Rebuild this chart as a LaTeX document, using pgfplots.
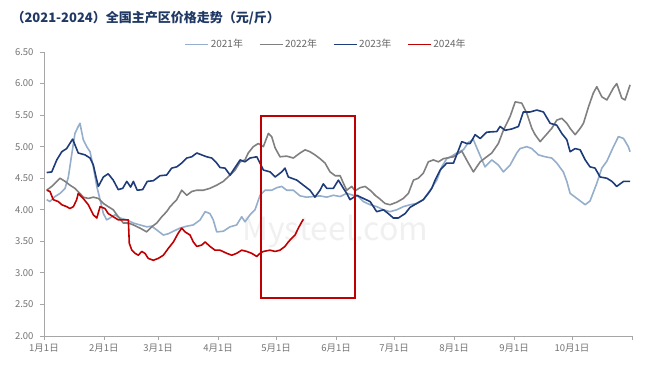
\documentclass[border=0pt]{standalone}
\usepackage{fontspec}
\setmainfont{Noto Sans CJK SC}
\usepackage{pgfplots}
\pgfplotsset{compat=1.18}
\definecolor{c21}{HTML}{94AECB}
\definecolor{c22}{HTML}{808080}
\definecolor{c23}{HTML}{1F3C7A}
\definecolor{c24}{HTML}{C00000}
\definecolor{titleblue}{HTML}{1F3864}
\begin{document}
\begin{tikzpicture}
\begin{axis}[
  at={(0,0)}, anchor=south west,
  scale only axis, width=588pt, height=284pt,
  xmin=0, xmax=304, ymin=2, ymax=6.5,
  axis x line*=bottom, axis y line*=left,
  axis line style={draw=black!35, line width=0.8pt},
  tick style={draw=black!35, line width=0.8pt},
  tick align=outside, major tick length=4pt,
  xtick={0,31,59,90,120,151,181,212,243,273,304},
  xticklabels={1月1日,2月1日,3月1日,4月1日,5月1日,6月1日,7月1日,8月1日,9月1日,10月1日,},
  ytick={2,2.5,3,3.5,4,4.5,5,5.5,6,6.5},
  /pgf/number format/fixed, /pgf/number format/fixed zerofill,
  /pgf/number format/precision=2, /pgf/number format/assume math mode=true,
  tick label style={font=\fontsize{9.5}{10}\selectfont, text=black!55},
  yticklabel style={xshift=-3pt},
  legend style={at={(0.48,1.028)}, anchor=center, draw=none, fill=none,
    legend columns=4, font=\fontsize{10}{12}\selectfont, text=black!60,
    /tikz/every even column/.append style={column sep=14pt}},
  legend image code/.code={\draw[#1, line width=1pt] (0pt,0pt) -- (23pt,0pt);},
  every axis plot/.append style={line width=1.6pt, line join=round, no markers},
]
\node[text=black!6, font=\fontsize{32}{32}\selectfont] at (axis cs:150.5,3.65) {Mysteel.com};
% 2021
\addplot[c21] coordinates {
(1.4,4.16)(3.1,4.13)(5.7,4.21)(8.3,4.26)(10.9,4.34)(12.6,4.52)(14.3,4.87)(16.0,5.21)(17.7,5.32)(18.6,5.37)
(20.3,5.11)(22.1,5.00)(23.8,4.92)(25.5,4.68)(27.3,4.37)(29.0,4.16)(30.7,3.94)(32.4,3.84)(34.1,3.87)(36.7,3.92)
(39.3,3.87)(42.8,3.84)(46.2,3.79)(49.6,3.76)(53.1,3.73)(55.7,3.74)(58.3,3.68)(61.7,3.60)(64.3,3.62)(66.9,3.66)
(70.3,3.71)(73.8,3.74)(77.2,3.76)(80.7,3.84)(83.3,3.97)(85.8,3.94)(87.5,3.84)(89.3,3.65)(92.7,3.66)(96.2,3.73)
(99.6,3.76)(102.2,3.89)(103.9,3.81)(106.5,3.92)(109.1,4.00)(111.7,4.23)(114.3,4.31)(117.7,4.31)(120.3,4.35)(122.9,4.37)
(125.5,4.31)(128.9,4.31)(132.4,4.22)(135.8,4.20)(139.3,4.21)(142.7,4.22)(146.2,4.20)(149.6,4.23)(153.1,4.21)(156.5,4.26)
(159.9,4.23)(162.5,4.21)(165.1,4.13)(168.6,4.08)(172.0,4.05)(175.5,4.00)(178.9,3.97)(182.4,4.00)(185.8,4.05)(189.3,4.08)
(192.7,4.10)(196.1,4.16)(199.6,4.31)(203.1,4.47)(205.6,4.68)(208.2,4.81)(210.8,4.85)(213.4,4.90)(216.8,4.95)(219.4,5.07)
(222.0,5.11)(224.6,4.92)(228.0,4.68)(231.5,4.79)(234.9,4.71)(237.5,4.60)(241.0,4.71)(244.4,4.90)(246.1,4.97)(249.6,5.00)
(252.2,4.97)(255.6,4.87)(259.1,4.84)(262.5,4.82)(265.1,4.74)(268.5,4.60)(270.3,4.45)(272.0,4.26)(275.5,4.18)(279.8,4.08)
(282.3,4.14)(285.8,4.42)(288.4,4.66)(291.0,4.77)(294.4,5.00)(297.0,5.16)(299.6,5.13)(302.1,5.00)(303.0,4.92)
};
\addlegendentry{2021年}
% 2022
\addplot[c22] coordinates {
(1.4,4.31)(4.0,4.37)(6.6,4.45)(8.3,4.50)(10.9,4.45)(13.4,4.39)(16.0,4.34)(18.6,4.26)(20.3,4.20)(22.9,4.18)
(25.5,4.20)(28.1,4.18)(30.7,4.10)(33.2,4.05)(35.8,4.00)(38.4,3.89)(41.0,3.79)(43.6,3.79)(46.2,3.76)(49.6,3.71)
(53.1,3.65)(55.7,3.73)(58.3,3.79)(60.9,3.89)(63.4,3.97)(65.2,4.05)(68.6,4.16)(71.2,4.31)(73.8,4.23)(76.4,4.29)
(79.0,4.31)(82.4,4.31)(85.8,4.34)(89.3,4.39)(92.7,4.45)(96.2,4.55)(98.8,4.63)(101.4,4.76)(103.9,4.79)(105.6,4.90)
(108.2,5.00)(110.8,5.05)(113.4,5.00)(116.0,5.21)(117.7,5.16)(119.5,4.98)(122.0,4.84)(125.5,4.85)(128.9,4.82)(132.4,4.90)
(135.0,4.95)(137.5,4.92)(140.1,4.87)(142.7,4.81)(145.3,4.74)(147.9,4.60)(150.5,4.54)(153.1,4.54)(154.8,4.42)(156.5,4.31)
(159.1,4.37)(160.8,4.30)(163.4,4.35)(166.0,4.37)(168.6,4.31)(171.2,4.23)(173.7,4.17)(176.3,4.10)(178.9,4.08)(182.4,4.12)
(185.8,4.18)(188.4,4.26)(191.0,4.47)(193.5,4.50)(196.1,4.58)(198.7,4.76)(201.3,4.79)(203.9,4.76)(206.5,4.81)(211.7,4.84)
(216.0,4.93)(219.4,4.74)(222.0,4.60)(225.5,4.76)(228.9,4.84)(231.5,4.90)(234.9,5.05)(237.5,5.26)(241.0,5.48)(243.6,5.71)
(247.0,5.69)(249.6,5.53)(252.2,5.29)(253.9,5.19)(256.5,5.08)(259.1,5.17)(262.5,5.29)(265.1,5.42)(267.7,5.45)(270.3,5.37)
(272.0,5.29)(274.6,5.19)(277.2,5.29)(278.9,5.37)(281.5,5.63)(284.0,5.85)(285.8,5.95)(288.4,5.79)(291.0,5.74)(294.4,5.93)
(296.1,6.00)(298.7,5.77)(300.4,5.74)(303.0,5.98)
};
\addlegendentry{2022年}
% 2023
\addplot[c23] coordinates {
(1.4,4.59)(4.0,4.60)(6.6,4.79)(9.2,4.92)(11.7,4.97)(14.8,5.12)(17.7,4.90)(21.2,4.87)(23.8,4.82)(25.5,4.71)
(26.9,4.52)(28.1,4.37)(30.7,4.52)(33.2,4.57)(35.8,4.47)(38.4,4.32)(40.7,4.34)(42.8,4.45)(44.8,4.36)(46.2,4.45)
(48.2,4.31)(51.0,4.32)(53.4,4.45)(56.5,4.46)(60.0,4.54)(63.4,4.55)(66.0,4.66)(68.6,4.68)(71.2,4.74)(73.8,4.82)
(76.4,4.84)(79.0,4.90)(81.5,4.87)(84.1,4.84)(86.7,4.82)(89.3,4.74)(91.0,4.67)(93.6,4.66)(96.2,4.55)(97.9,4.63)
(101.4,4.79)(103.9,4.76)(106.5,4.82)(110.0,4.84)(111.7,4.74)(113.4,4.63)(116.9,4.60)(119.5,4.52)(122.9,4.60)(124.6,4.66)
(126.3,4.52)(130.7,4.47)(134.1,4.39)(137.5,4.31)(140.1,4.20)(142.7,4.31)(144.4,4.41)(146.2,4.34)(149.6,4.34)(152.2,4.47)
(154.8,4.34)(156.5,4.26)(158.2,4.16)(161.7,4.23)(165.1,4.18)(168.6,4.13)(172.0,3.97)(175.5,4.00)(178.0,3.94)(180.6,3.87)
(183.2,3.87)(186.7,3.94)(189.3,4.04)(192.7,4.10)(196.1,4.16)(198.7,4.26)(200.5,4.34)(202.2,4.47)(204.8,4.63)(208.2,4.74)
(211.7,4.74)(216.0,5.08)(218.6,5.05)(220.3,5.05)(222.9,5.19)(225.5,5.13)(228.9,5.23)(234.1,5.24)(235.8,5.32)(238.4,5.26)
(241.8,5.28)(245.3,5.32)(247.8,5.55)(251.3,5.55)(254.8,5.58)(258.2,5.55)(261.7,5.37)(265.1,5.34)(267.7,5.21)(270.3,5.11)
(272.0,4.92)(274.6,4.97)(277.2,4.95)(279.8,4.79)(282.3,4.68)(284.9,4.66)(287.5,4.52)(291.0,4.50)(293.6,4.45)(296.1,4.37)
(299.6,4.45)(303.0,4.45)
};
\addlegendentry{2023年}
% 2024
\addplot[c24] coordinates {
(1.4,4.31)(3.1,4.29)(4.8,4.16)(7.4,4.13)(9.2,4.08)(11.7,4.05)(13.4,4.02)(15.2,4.05)(16.9,4.16)(17.7,4.26)
(20.3,4.18)(22.9,4.08)(25.5,3.92)(27.3,3.87)(29.0,4.05)(31.5,4.02)(33.2,3.94)(35.8,3.89)(38.4,3.84)(41.0,3.84)
(43.6,3.84)(44.1,3.47)(45.4,3.36)(47.1,3.31)(48.8,3.28)(50.5,3.34)(52.2,3.31)(53.9,3.23)(56.5,3.20)(59.1,3.23)
(61.7,3.28)(64.3,3.39)(66.9,3.49)(69.4,3.63)(71.2,3.71)(72.9,3.65)(75.5,3.60)(77.2,3.49)(79.0,3.42)(81.5,3.44)
(83.3,3.49)(85.8,3.42)(88.4,3.36)(91.0,3.36)(94.5,3.31)(97.1,3.28)(99.6,3.31)(102.2,3.36)(104.8,3.34)(107.4,3.31)
(110.0,3.26)(111.7,3.31)(113.4,3.34)(116.9,3.36)(119.5,3.34)(122.0,3.36)(124.6,3.42)(126.3,3.49)(128.1,3.55)(129.8,3.60)
(131.5,3.71)(133.3,3.81)(134.1,3.85)
};
\addlegendentry{2024年}
\draw[c24, line width=1.8pt] (axis cs:112.2,2.60) rectangle (axis cs:160.8,5.49);
\end{axis}
\node[anchor=west, text=titleblue, font=\fontsize{13}{14}\selectfont\bfseries] at (-36pt,318pt) {（2021-2024）全国主产区价格走势（元/斤）};
\pgfresetboundingbox
\useasboundingbox (-44pt,-40pt) rectangle (616pt,336pt);
\end{tikzpicture}
\end{document}
